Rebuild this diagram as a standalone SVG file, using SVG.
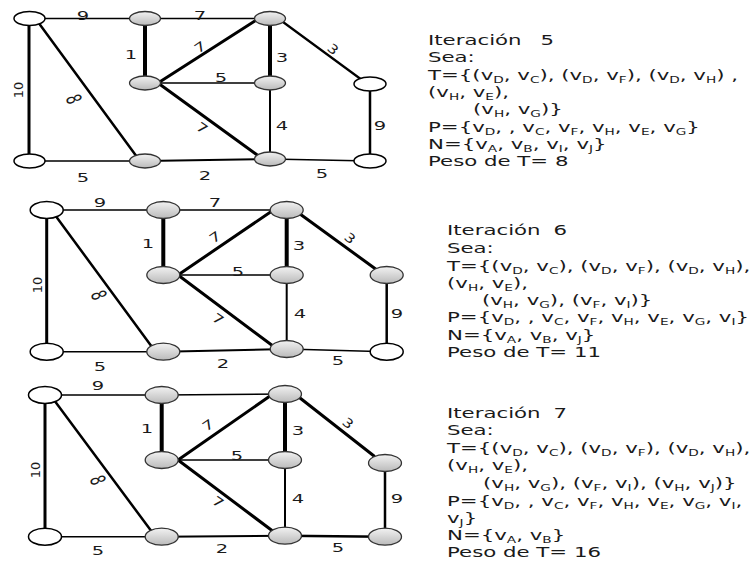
<svg xmlns="http://www.w3.org/2000/svg" width="754" height="561" viewBox="0 0 754 561">
<defs>
<linearGradient id="gr" x1="0" y1="0" x2="0" y2="1">
<stop offset="0" stop-color="#f2f2f2"/>
<stop offset="1" stop-color="#bababa"/>
</linearGradient>
<style>
.e{stroke:#000;fill:none;stroke-linecap:round}
.w{fill:#fff;stroke:#000;stroke-width:1.5}
.g{fill:url(#gr);stroke:#333;stroke-width:1.3}
.lb{font-family:"DejaVu Sans",sans-serif;font-size:13px;fill:#1a1a1a;text-anchor:middle}
.tx{font-family:"DejaVu Sans",sans-serif;font-size:14px;fill:#1a1a1a}
.s{font-size:9px}
</style>
</defs>
<rect width="754" height="561" fill="#fff"/>

<!-- ============ Graph 1 (Iteración 5) ============ -->
<g id="edges1">
<line class="e" x1="29" y1="18.5" x2="145" y2="18.5" stroke-width="1.5"/>
<line class="e" x1="145" y1="18.5" x2="270" y2="18.5" stroke-width="1.5"/>
<line class="e" x1="145" y1="18.5" x2="145" y2="83" stroke-width="4"/>
<line class="e" x1="158" y1="83" x2="258" y2="19" stroke-width="3"/>
<line class="e" x1="270" y1="18.5" x2="270" y2="83" stroke-width="4"/>
<line class="e" x1="145" y1="83" x2="270" y2="83" stroke-width="1.5"/>
<line class="e" x1="158" y1="83" x2="260" y2="157" stroke-width="3"/>
<line class="e" x1="270" y1="83" x2="270" y2="159" stroke-width="2"/>
<line class="e" x1="283" y1="22" x2="362" y2="80" stroke-width="2.2"/>
<line class="e" x1="370" y1="84" x2="370" y2="161" stroke-width="2.5"/>
<line class="e" x1="29" y1="18.5" x2="29" y2="161" stroke-width="3"/>
<line class="e" x1="38" y1="22" x2="137" y2="157" stroke-width="2.5"/>
<line class="e" x1="29" y1="161" x2="145" y2="161" stroke-width="1.5"/>
<line class="e" x1="145" y1="161" x2="270" y2="159" stroke-width="2"/>
<line class="e" x1="270" y1="159" x2="370" y2="161" stroke-width="1.5"/>
</g>
<g id="labels1">
<text class="lb" transform="translate(83,15) scale(1.5,1)" y="4.7">9</text>
<text class="lb" transform="translate(200,15) scale(1.5,1)" y="4.7">7</text>
<text class="lb" transform="translate(131,54) scale(1.5,1)" y="4.7">1</text>
<text class="lb" transform="translate(200,47) rotate(-35) scale(1.3,1)" y="4.7">7</text>
<text class="lb" transform="translate(282,57) scale(1.5,1)" y="4.7">3</text>
<text class="lb" transform="translate(221,77) scale(1.5,1)" y="4.7">5</text>
<text class="lb" transform="translate(333,49) rotate(40) scale(1.2,1)" y="4.7">3</text>
<text class="lb" transform="translate(18,90) rotate(-90)" y="4.7">10</text>
<text class="lb" transform="translate(74,99) rotate(70) scale(1,1.6)" y="4.7">8</text>
<text class="lb" transform="translate(202,128) rotate(35) scale(1.3,1)" y="4.7">7</text>
<text class="lb" transform="translate(282,125) scale(1.5,1)" y="4.7">4</text>
<text class="lb" transform="translate(380,125) scale(1.5,1)" y="4.7">9</text>
<text class="lb" transform="translate(83,177) scale(1.5,1)" y="4.7">5</text>
<text class="lb" transform="translate(205,175) scale(1.5,1)" y="4.7">2</text>
<text class="lb" transform="translate(322,173) scale(1.5,1)" y="4.7">5</text>
</g>
<g id="g1A"><ellipse class="w" cx="29.5" cy="18.5" rx="15.5" ry="7"/></g>
<g id="g1C"><ellipse class="g" cx="145" cy="18.5" rx="15.5" ry="7"/></g>
<g id="g1F"><ellipse class="g" cx="270" cy="18.5" rx="15.5" ry="7"/></g>
<g id="g1D"><ellipse class="g" cx="145" cy="83" rx="15.5" ry="7"/></g>
<g id="g1E"><ellipse class="g" cx="270" cy="83" rx="15.5" ry="7"/></g>
<g id="g1I"><ellipse class="w" cx="370" cy="84" rx="16" ry="7"/></g>
<g id="g1B"><ellipse class="w" cx="29.5" cy="161" rx="15.5" ry="7"/></g>
<g id="g1G"><ellipse class="g" cx="145" cy="161" rx="15.5" ry="7"/></g>
<g id="g1H"><ellipse class="g" cx="270" cy="159" rx="15.5" ry="7"/></g>
<g id="g1J"><ellipse class="w" cx="370" cy="161" rx="16" ry="7"/></g>

<!-- ============ Graph 2 (Iteración 6) ============ -->
<g id="edges2">
<line class="e" x1="46.7" y1="210" x2="163.3" y2="210" stroke-width="1.5"/>
<line class="e" x1="163.3" y1="210" x2="286.7" y2="210" stroke-width="1.5"/>
<line class="e" x1="163.3" y1="210" x2="163.3" y2="275" stroke-width="4"/>
<line class="e" x1="178" y1="275" x2="272" y2="211" stroke-width="3"/>
<line class="e" x1="286.7" y1="210" x2="286.7" y2="275" stroke-width="4"/>
<line class="e" x1="163.3" y1="275" x2="286.7" y2="275" stroke-width="1.5"/>
<line class="e" x1="178" y1="275" x2="273" y2="346" stroke-width="3"/>
<line class="e" x1="286.7" y1="275" x2="286.7" y2="349" stroke-width="2"/>
<line class="e" x1="300" y1="214" x2="377" y2="270" stroke-width="3"/>
<line class="e" x1="386.7" y1="275" x2="386.7" y2="351.7" stroke-width="2.5"/>
<line class="e" x1="46.7" y1="210" x2="46.7" y2="351.7" stroke-width="3"/>
<line class="e" x1="55" y1="215" x2="152" y2="347" stroke-width="2.5"/>
<line class="e" x1="46.7" y1="351.7" x2="163.3" y2="351.7" stroke-width="1.5"/>
<line class="e" x1="163.3" y1="351.7" x2="286.7" y2="349" stroke-width="2"/>
<line class="e" x1="286.7" y1="349" x2="386.7" y2="351.7" stroke-width="1.5"/>
</g>
<g id="labels2">
<text class="lb" transform="translate(100,202) scale(1.5,1)" y="4.7">9</text>
<text class="lb" transform="translate(215,202) scale(1.5,1)" y="4.7">7</text>
<text class="lb" transform="translate(148,243) scale(1.5,1)" y="4.7">1</text>
<text class="lb" transform="translate(215,237) rotate(-35) scale(1.3,1)" y="4.7">7</text>
<text class="lb" transform="translate(299,245) scale(1.5,1)" y="4.7">3</text>
<text class="lb" transform="translate(238,271) scale(1.5,1)" y="4.7">5</text>
<text class="lb" transform="translate(350,238) rotate(40) scale(1.2,1)" y="4.7">3</text>
<text class="lb" transform="translate(37,285) rotate(-90)" y="4.7">10</text>
<text class="lb" transform="translate(99,295) rotate(70) scale(1,1.6)" y="4.7">8</text>
<text class="lb" transform="translate(218,319) rotate(35) scale(1.3,1)" y="4.7">7</text>
<text class="lb" transform="translate(300,313) scale(1.5,1)" y="4.7">4</text>
<text class="lb" transform="translate(397,313) scale(1.5,1)" y="4.7">9</text>
<text class="lb" transform="translate(100,366) scale(1.5,1)" y="4.7">5</text>
<text class="lb" transform="translate(223,363) scale(1.5,1)" y="4.7">2</text>
<text class="lb" transform="translate(338,360) scale(1.5,1)" y="4.7">5</text>
</g>
<g id="g2A"><ellipse class="w" cx="46.7" cy="210" rx="16.5" ry="8.5"/></g>
<g id="g2C"><ellipse class="g" cx="163.3" cy="210" rx="16.5" ry="8.5"/></g>
<g id="g2F"><ellipse class="g" cx="286.7" cy="210" rx="16.5" ry="8.5"/></g>
<g id="g2D"><ellipse class="g" cx="163.3" cy="275" rx="16.5" ry="8.5"/></g>
<g id="g2E"><ellipse class="g" cx="286.7" cy="275" rx="16.5" ry="8.5"/></g>
<g id="g2I"><ellipse class="g" cx="386.7" cy="275" rx="16.5" ry="8.5"/></g>
<g id="g2B"><ellipse class="w" cx="46.7" cy="351.7" rx="16.5" ry="8.5"/></g>
<g id="g2G"><ellipse class="g" cx="163.3" cy="351.7" rx="16.5" ry="8.5"/></g>
<g id="g2H"><ellipse class="g" cx="286.7" cy="349" rx="16.5" ry="8.5"/></g>
<g id="g2J"><ellipse class="w" cx="386.7" cy="351.7" rx="16.5" ry="8.5"/></g>

<!-- ============ Graph 3 (Iteración 7) ============ -->
<g id="edges3">
<line class="e" x1="45" y1="395" x2="161.7" y2="395" stroke-width="1.5"/>
<line class="e" x1="161.7" y1="395" x2="285" y2="394" stroke-width="1.5"/>
<line class="e" x1="161.7" y1="395" x2="161.7" y2="460" stroke-width="4"/>
<line class="e" x1="178" y1="460" x2="270" y2="396" stroke-width="3"/>
<line class="e" x1="285" y1="394" x2="285" y2="460" stroke-width="4"/>
<line class="e" x1="161.7" y1="460" x2="285" y2="460" stroke-width="1.5"/>
<line class="e" x1="178" y1="460" x2="274" y2="532" stroke-width="3"/>
<line class="e" x1="285" y1="460" x2="285" y2="535.7" stroke-width="2"/>
<line class="e" x1="300" y1="398" x2="374" y2="456" stroke-width="3"/>
<line class="e" x1="385" y1="463" x2="385" y2="536.7" stroke-width="2.5"/>
<line class="e" x1="45" y1="395" x2="45" y2="536.7" stroke-width="3"/>
<line class="e" x1="54" y1="400" x2="152" y2="532" stroke-width="2.5"/>
<line class="e" x1="45" y1="536.7" x2="161.7" y2="536.7" stroke-width="1.5"/>
<line class="e" x1="161.7" y1="536.7" x2="285" y2="535.7" stroke-width="2"/>
<line class="e" x1="285" y1="535.7" x2="385" y2="536.7" stroke-width="2.5"/>
</g>
<g id="labels3">
<text class="lb" transform="translate(98,385) scale(1.5,1)" y="4.7">9</text>
<text class="lb" transform="translate(147,428) scale(1.5,1)" y="4.7">1</text>
<text class="lb" transform="translate(208,425) rotate(-35) scale(1.3,1)" y="4.7">7</text>
<text class="lb" transform="translate(298,430) scale(1.5,1)" y="4.7">3</text>
<text class="lb" transform="translate(237,455) scale(1.5,1)" y="4.7">5</text>
<text class="lb" transform="translate(348,423) rotate(40) scale(1.2,1)" y="4.7">3</text>
<text class="lb" transform="translate(35,470) rotate(-90)" y="4.7">10</text>
<text class="lb" transform="translate(98,480) rotate(70) scale(1,1.6)" y="4.7">8</text>
<text class="lb" transform="translate(218,502) rotate(35) scale(1.3,1)" y="4.7">7</text>
<text class="lb" transform="translate(298,498) scale(1.5,1)" y="4.7">4</text>
<text class="lb" transform="translate(397,498) scale(1.5,1)" y="4.7">9</text>
<text class="lb" transform="translate(98,550) scale(1.5,1)" y="4.7">5</text>
<text class="lb" transform="translate(222,548) scale(1.5,1)" y="4.7">2</text>
<text class="lb" transform="translate(338,547) scale(1.5,1)" y="4.7">5</text>
</g>
<g id="g3A"><ellipse class="w" cx="45" cy="395" rx="16.5" ry="8.5"/></g>
<g id="g3C"><ellipse class="g" cx="161.7" cy="395" rx="16.5" ry="8.5"/></g>
<g id="g3F"><ellipse class="g" cx="285" cy="394" rx="16.5" ry="8.5"/></g>
<g id="g3D"><ellipse class="g" cx="161.7" cy="460" rx="16.5" ry="8.5"/></g>
<g id="g3E"><ellipse class="g" cx="285" cy="460" rx="16.5" ry="8.5"/></g>
<g id="g3I"><ellipse class="g" cx="385" cy="463" rx="16.5" ry="8.5"/></g>
<g id="g3B"><ellipse class="w" cx="45" cy="536.7" rx="16.5" ry="8.5"/></g>
<g id="g3G"><ellipse class="g" cx="161.7" cy="536.7" rx="16.5" ry="8.5"/></g>
<g id="g3H"><ellipse class="g" cx="285" cy="535.7" rx="16.5" ry="8.5"/></g>
<g id="g3J"><ellipse class="g" cx="385" cy="536.7" rx="16.5" ry="8.5"/></g>

<!-- ============ Text blocks ============ -->
<g id="text5" class="tx" transform="translate(428,0) scale(1.52,1)">
<text x="0" y="45">Iteración <tspan dx="8">5</tspan></text>
<text x="0" y="62">Sea:</text>
<text x="0" y="80">T={(v<tspan class="s" dy="3">D</tspan><tspan dy="-3">, v</tspan><tspan class="s" dy="3">C</tspan><tspan dy="-3">), (v</tspan><tspan class="s" dy="3">D</tspan><tspan dy="-3">, v</tspan><tspan class="s" dy="3">F</tspan><tspan dy="-3">), (v</tspan><tspan class="s" dy="3">D</tspan><tspan dy="-3">, v</tspan><tspan class="s" dy="3">H</tspan><tspan dy="-3">) ,</tspan></text>
<text x="0" y="97">(v<tspan class="s" dy="3">H</tspan><tspan dy="-3">, v</tspan><tspan class="s" dy="3">E</tspan><tspan dy="-3">),</tspan></text>
<text x="29.6" y="114">(v<tspan class="s" dy="3">H</tspan><tspan dy="-3">, v</tspan><tspan class="s" dy="3">G</tspan><tspan dy="-3">)}</tspan></text>
<text x="0" y="132">P={v<tspan class="s" dy="3">D</tspan><tspan dy="-3">, , v</tspan><tspan class="s" dy="3">C</tspan><tspan dy="-3">, v</tspan><tspan class="s" dy="3">F</tspan><tspan dy="-3">, v</tspan><tspan class="s" dy="3">H</tspan><tspan dy="-3">, v</tspan><tspan class="s" dy="3">E</tspan><tspan dy="-3">, v</tspan><tspan class="s" dy="3">G</tspan><tspan dy="-3">}</tspan></text>
<text x="0" y="149">N={v<tspan class="s" dy="3">A</tspan><tspan dy="-3">, v</tspan><tspan class="s" dy="3">B</tspan><tspan dy="-3">, v</tspan><tspan class="s" dy="3">I</tspan><tspan dy="-3">, v</tspan><tspan class="s" dy="3">J</tspan><tspan dy="-3">}</tspan></text>
<text x="0" y="166">Peso de T= 8</text>
</g>

<g id="text6" class="tx" transform="translate(447,0) scale(1.52,1)">
<text x="0" y="235">Iteración <tspan dx="4">6</tspan></text>
<text x="0" y="253">Sea:</text>
<text x="0" y="271">T={(v<tspan class="s" dy="3">D</tspan><tspan dy="-3">, v</tspan><tspan class="s" dy="3">C</tspan><tspan dy="-3">), (v</tspan><tspan class="s" dy="3">D</tspan><tspan dy="-3">, v</tspan><tspan class="s" dy="3">F</tspan><tspan dy="-3">), (v</tspan><tspan class="s" dy="3">D</tspan><tspan dy="-3">, v</tspan><tspan class="s" dy="3">H</tspan><tspan dy="-3">),</tspan></text>
<text x="0" y="288">(v<tspan class="s" dy="3">H</tspan><tspan dy="-3">, v</tspan><tspan class="s" dy="3">E</tspan><tspan dy="-3">),</tspan></text>
<text x="23" y="305">(v<tspan class="s" dy="3">H</tspan><tspan dy="-3">, v</tspan><tspan class="s" dy="3">G</tspan><tspan dy="-3">), (v</tspan><tspan class="s" dy="3">F</tspan><tspan dy="-3">, v</tspan><tspan class="s" dy="3">I</tspan><tspan dy="-3">)}</tspan></text>
<text x="0" y="322">P={v<tspan class="s" dy="3">D</tspan><tspan dy="-3">, , v</tspan><tspan class="s" dy="3">C</tspan><tspan dy="-3">, v</tspan><tspan class="s" dy="3">F</tspan><tspan dy="-3">, v</tspan><tspan class="s" dy="3">H</tspan><tspan dy="-3">, v</tspan><tspan class="s" dy="3">E</tspan><tspan dy="-3">, v</tspan><tspan class="s" dy="3">G</tspan><tspan dy="-3">, v</tspan><tspan class="s" dy="3">I</tspan><tspan dy="-3">}</tspan></text>
<text x="0" y="340">N={v<tspan class="s" dy="3">A</tspan><tspan dy="-3">, v</tspan><tspan class="s" dy="3">B</tspan><tspan dy="-3">, v</tspan><tspan class="s" dy="3">J</tspan><tspan dy="-3">}</tspan></text>
<text x="0" y="357">Peso de T= 11</text>
</g>

<g id="text7" class="tx" transform="translate(447,0) scale(1.52,1)">
<text x="0" y="418">Iteración <tspan dx="4">7</tspan></text>
<text x="0" y="435">Sea:</text>
<text x="0" y="453">T={(v<tspan class="s" dy="3">D</tspan><tspan dy="-3">, v</tspan><tspan class="s" dy="3">C</tspan><tspan dy="-3">), (v</tspan><tspan class="s" dy="3">D</tspan><tspan dy="-3">, v</tspan><tspan class="s" dy="3">F</tspan><tspan dy="-3">), (v</tspan><tspan class="s" dy="3">D</tspan><tspan dy="-3">, v</tspan><tspan class="s" dy="3">H</tspan><tspan dy="-3">),</tspan></text>
<text x="0" y="470">(v<tspan class="s" dy="3">H</tspan><tspan dy="-3">, v</tspan><tspan class="s" dy="3">E</tspan><tspan dy="-3">),</tspan></text>
<text x="23.7" y="488">(v<tspan class="s" dy="3">H</tspan><tspan dy="-3">, v</tspan><tspan class="s" dy="3">G</tspan><tspan dy="-3">), (v</tspan><tspan class="s" dy="3">F</tspan><tspan dy="-3">, v</tspan><tspan class="s" dy="3">I</tspan><tspan dy="-3">), (v</tspan><tspan class="s" dy="3">H</tspan><tspan dy="-3">, v</tspan><tspan class="s" dy="3">J</tspan><tspan dy="-3">)}</tspan></text>
<text x="0" y="506">P={v<tspan class="s" dy="3">D</tspan><tspan dy="-3">, , v</tspan><tspan class="s" dy="3">C</tspan><tspan dy="-3">, v</tspan><tspan class="s" dy="3">F</tspan><tspan dy="-3">, v</tspan><tspan class="s" dy="3">H</tspan><tspan dy="-3">, v</tspan><tspan class="s" dy="3">E</tspan><tspan dy="-3">, v</tspan><tspan class="s" dy="3">G</tspan><tspan dy="-3">, v</tspan><tspan class="s" dy="3">I</tspan><tspan dy="-3">,</tspan></text>
<text x="0" y="523">v<tspan class="s" dy="3">J</tspan><tspan dy="-3">}</tspan></text>
<text x="0" y="540">N={v<tspan class="s" dy="3">A</tspan><tspan dy="-3">, v</tspan><tspan class="s" dy="3">B</tspan><tspan dy="-3">}</tspan></text>
<text x="0" y="557">Peso de T= 16</text>
</g>
</svg>
